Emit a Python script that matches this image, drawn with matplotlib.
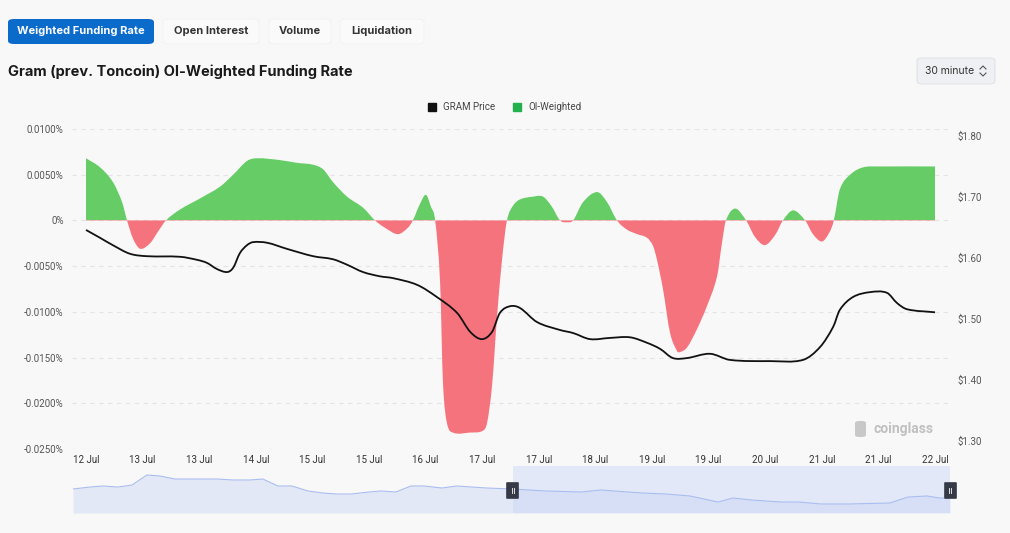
import matplotlib.pyplot as plt
from matplotlib.patches import FancyBboxPatch, PathPatch, Rectangle
from matplotlib.lines import Line2D
from matplotlib.path import Path
plt.switch_backend('Agg')
plt.rcParams["font.family"] = ["Roboto", "DejaVu Sans"]

# hours since 12 Jul 08:00, 30-minute OI-weighted funding rate (%)
fund_hours = [0, 4.0, 7.6, 10.2, 11.6, 13.3, 15.3, 18.1, 20.4, 22.6, 26.6, 32.2, 37.9, 41.6, 45.5,
              48.3, 54.8, 59.6, 64.1, 67.0, 69.8, 73.8, 78.3, 81.7, 84.5, 88.2, 91.0, 92.4, 94.4,
              96.1, 97.5, 98.7, 100.1, 100.9, 102.0, 103.7, 108.6, 112.2, 113.4, 114.8, 116.2,
              117.6, 119.0, 120.7, 122.7, 126.4, 129.2, 131.7, 134.0, 136.0, 137.7, 140.5, 144.5,
              147.3, 150.1, 152.9, 155.8, 158.6, 160.3, 161.4, 163.1, 165.1, 167.1, 167.9, 169.9,
              172.7, 175.5, 178.4, 179.8, 180.9, 183.5, 186.6, 189.1, 191.9, 194.8, 197.0, 199.9,
              203.3, 205.5, 208.1, 210.3, 211.4, 213.1, 216.0, 219.6, 224.5, 240]
fund_rate = [0.0068, 0.0058, 0.0042, 0.0020, 0, -0.0020, -0.0031, -0.0025, -0.0012, 0, 0.0012,
             0.0024, 0.0037, 0.0050, 0.0065, 0.0068, 0.0066, 0.0063, 0.0061, 0.0056, 0.0042,
             0.0026, 0.0014, 0, -0.0008, -0.0015, -0.0008, 0, 0.0018, 0.0028, 0.0015, 0,
             -0.0068, -0.0177, -0.0221, -0.0232, -0.0232, -0.0230, -0.0221, -0.0180, -0.0105,
             -0.0043, 0, 0.0016, 0.0023, 0.0026, 0.0026, 0.0015, 0, -0.0002, 0, 0.0020, 0.0031,
             0.0020, 0, -0.0010, -0.0015, -0.0019, -0.0028, -0.0043, -0.0075, -0.0123, -0.0143,
             -0.0144, -0.0139, -0.0119, -0.0094, -0.0061, -0.0024, 0, 0.0013, 0, -0.0018,
             -0.0027, -0.0016, 0, 0.0011, 0, -0.0015, -0.0023, -0.0012, 0, 0.0034, 0.0050,
             0.0058, 0.0059, 0.0059]

price_hours = [0, 4.0, 7.6, 12.4, 17.2, 26.6, 31.4, 34.2, 37.0, 39.9, 41.6, 43.5, 45.5, 47.2,
               51.2, 56.8, 64.2, 69.8, 73.8, 78.3, 83.1, 86.8, 93.6, 99.2, 104.9, 108.6, 111.9,
               114.8, 117.0, 119.9, 122.7, 127.5, 134.0, 137.7, 142.5, 148.1, 153.8, 158.6,
               162.3, 165.9, 169.9, 176.4, 182.0, 193.4, 202.7, 207.5, 211.2, 213.1, 216.8,
               221.6, 226.4, 229.3, 232.1, 240]
gram_price = [1.646, 1.633, 1.621, 1.607, 1.603, 1.602, 1.597, 1.592, 1.582, 1.577, 1.584,
              1.608, 1.621, 1.626, 1.625, 1.615, 1.603, 1.598, 1.589, 1.577, 1.570, 1.567,
              1.556, 1.536, 1.510, 1.479, 1.467, 1.479, 1.510, 1.521, 1.518, 1.495, 1.482,
              1.477, 1.467, 1.469, 1.470, 1.461, 1.451, 1.436, 1.436, 1.443, 1.433, 1.431,
              1.433, 1.454, 1.487, 1.515, 1.536, 1.544, 1.543, 1.526, 1.516, 1.511]

# overview series shown in the zoom slider
slider_hours = [-241.6, -232.3, -225.2, -216.9, -209.2, -201.0, -193.9, -185.6, -177.4, -162.6,
                -153.8, -144.4, -137.3, -129.1, -121.4, -112.6, -104.3, -96.7, -89.0, -79.1,
                -72.5, -64.3, -56.0, -48.9, -39.0, -30.8, -22.5, -14.3, 0, 17.6, 37.3, 48.3,
                70.8, 84.0, 97.2, 112.6, 120.8, 130.7, 147.2, 157.1, 169.2, 184.0, 207.0, 216.9,
                227.4, 234.0, 240]
slider_price = [1.646, 1.674, 1.689, 1.674, 1.703, 1.845, 1.831, 1.788, 1.788, 1.788, 1.774,
                1.774, 1.788, 1.689, 1.689, 1.618, 1.589, 1.575, 1.575, 1.603, 1.618, 1.603,
                1.689, 1.689, 1.660, 1.689, 1.674, 1.660, 1.646, 1.618, 1.603, 1.632, 1.589,
                1.575, 1.547, 1.461, 1.518, 1.490, 1.461, 1.461, 1.433, 1.433, 1.447, 1.532,
                1.547, 1.518, 1.518]

tick_hours = [0, 16, 32, 48, 64, 80, 96, 112, 128, 144, 160, 176, 192, 208, 224, 240]
tick_labels = ["12 Jul", "13 Jul", "13 Jul", "14 Jul", "15 Jul", "15 Jul", "16 Jul", "17 Jul",
               "17 Jul", "18 Jul", "19 Jul", "19 Jul", "20 Jul", "21 Jul", "21 Jul", "22 Jul"]
rate_ticks = [0.01, 0.005, 0, -0.005, -0.01, -0.015, -0.02, -0.025]
price_ticks = [1.3, 1.4, 1.5, 1.6, 1.7, 1.8]

bg = "#f8f8f8"
green = "#66cc66"
red = "#f5737d"
W, H = 1010, 533


def smooth_path(xs, ys, s=0.5, close_to=None):
    # bezier path through the points (like echarts smooth lines)
    n = len(xs)
    verts = [(xs[0], ys[0])]
    codes = [Path.MOVETO]
    for i in range(n - 1):
        x0, y0 = xs[i], ys[i]
        x1, y1 = xs[i + 1], ys[i + 1]
        xp, yp = (xs[i - 1], ys[i - 1]) if i > 0 else (x0, y0)
        xn, yn = (xs[i + 2], ys[i + 2]) if i + 2 < n else (x1, y1)
        d1 = x1 - x0
        slope_a = (y1 - yp) / (x1 - xp) if x1 != xp else 0
        slope_b = (yn - y0) / (xn - x0) if xn != x0 else 0
        c1 = (x0 + d1 * s / 1.5, y0 + slope_a * d1 * s / 1.5)
        c2 = (x1 - d1 * s / 1.5, y1 - slope_b * d1 * s / 1.5)
        verts += [c1, c2, (x1, y1)]
        codes += [Path.CURVE4] * 3
    if close_to is not None:
        verts += [(xs[-1], close_to), (xs[0], close_to), (xs[0], ys[0])]
        codes += [Path.LINETO, Path.LINETO, Path.CLOSEPOLY]
    return Path(verts, codes)


fig = plt.figure(figsize=(10.1, 5.33), dpi=100, facecolor=bg)

def fx(px):
    return px / W

def fy(py):
    return 1 - py / H

# main chart
ax = fig.add_axes([fx(72), fy(449), fx(948) - fx(72), fy(129) - fy(449)], facecolor=bg)
ax.set_xlim(-14 / 3.5375, 240 + 13 / 3.5375)
ax.set_ylim(-0.025, 0.01)
area = smooth_path(fund_hours, fund_rate, close_to=0)
for color, y0, y1 in [(green, 0, 1), (red, -1, 0)]:
    p = PathPatch(area, fc=color, ec="none", lw=0, zorder=2)
    ax.add_patch(p)
    clip = Rectangle((-50, y0), 400, y1 - y0, transform=ax.transData)
    p.set_clip_path(clip)
ax.set_yticks(rate_ticks)
ax.set_yticklabels(["0%" if v == 0 else "%.4f%%" % v for v in rate_ticks])
ax.set_xticks(tick_hours)
ax.set_xticklabels(tick_labels)
ax.grid(axis="y", color="#e4e4e4", ls=(0, (4, 4)), lw=0.8)
ax.set_axisbelow(True)
for s in ax.spines.values():
    s.set_visible(False)
ax.tick_params(length=0, labelsize=7, colors="#555555")
ax.tick_params(axis="y", pad=6)
ax.tick_params(axis="x", pad=4, colors="#333333")

ax2 = ax.twinx()
ax2.add_patch(PathPatch(smooth_path(price_hours, gram_price), fc="none", ec="#111111",
                        lw=1.3, zorder=3))
ax2.set_ylim(1.2869, 1.8115)
ax2.set_yticks(price_ticks)
ax2.set_yticklabels(["$%.2f" % v for v in price_ticks])
for s in ax2.spines.values():
    s.set_visible(False)
ax2.tick_params(length=0, labelsize=7, colors="#555555", pad=7)

# watermark
fig.text(fx(873), fy(429), "coinglass", fontsize=10, fontweight="bold", color="#c0c0c0",
         va="center", ha="left")
fig.add_artist(FancyBboxPatch((fx(855), fy(437)), fx(11), fy(421) - fy(437),
                              boxstyle="round,pad=0,rounding_size=0.004",
                              transform=fig.transFigure, fc="#c8c8c8", ec="none"))

# legend
leg = [Line2D([], [], ls="none", marker="s", ms=6, color="#111111", label="GRAM Price"),
       Line2D([], [], ls="none", marker="s", ms=6, color="#22b14c", label="OI-Weighted")]
fig.legend(handles=leg, loc="center", bbox_to_anchor=(fx(502), fy(107)), ncol=2, frameon=False,
           fontsize=7, handletextpad=0.2, columnspacing=1.2, labelcolor="#444444")

# slider
sl = fig.add_axes([fx(73), fy(513), fx(950) - fx(73), fy(466) - fy(513)], facecolor=bg)
sl.plot(slider_hours, slider_price, color="#a9bdf0", lw=0.8)
sl.fill_between(slider_hours, slider_price, 1.305, color="#e3e8f6", lw=0)
sl.axvspan(0, 240, color="#c9d6f7", alpha=0.45, lw=0)
sl.set_xlim(slider_hours[0], 240)
sl.set_ylim(1.305, 1.973)
sl.axis("off")
for h in [0, 240]:
    px = sl.transData.transform((h, 0))[0]
    fig.add_artist(Rectangle((fx(px - 5.5), fy(497.5)), fx(11), fy(482.5) - fy(497.5),
                             transform=fig.transFigure, fc="#353a46", ec="#353a46", lw=1.2,
                             joinstyle="round", zorder=5))
    for off in (-1.2, 1.2):
        fig.add_artist(Line2D([fx(px + off)] * 2, [fy(487.5), fy(492.5)],
                              transform=fig.transFigure, color="white", lw=0.6, zorder=6))

# header: tabs, title, interval selector
fig.add_artist(FancyBboxPatch((fx(8), fy(44)), fx(146), fy(19) - fy(44),
                              boxstyle="round,pad=0,rounding_size=0.006",
                              transform=fig.transFigure, fc="#0b6bcb", ec="none"))
fig.text(fx(81), fy(31.5), "Weighted Funding Rate", color="white", fontsize=8,
         fontweight="bold", ha="center", va="center", family=["Inter", "DejaVu Sans"])
for cx, wd, name in [(211, 96, "Open Interest"), (300, 62, "Volume"), (382, 84, "Liquidation")]:
    fig.add_artist(FancyBboxPatch((fx(cx - wd / 2), fy(44)), fx(wd), fy(19) - fy(44),
                                  boxstyle="round,pad=0,rounding_size=0.006",
                                  transform=fig.transFigure, fc="#fafafa", ec="#f1f1f1", lw=0.6))
    fig.text(fx(cx), fy(31.5), name, color="#333333", fontsize=8, fontweight="bold",
             ha="center", va="center", family=["Inter", "DejaVu Sans"])

fig.text(fx(8), fy(72), "Gram (prev. Toncoin) OI-Weighted Funding Rate", fontsize=10.5,
         fontweight="bold", color="#1a1a1a", ha="left", va="center", family=["Inter", "DejaVu Sans"])

fig.add_artist(FancyBboxPatch((fx(917), fy(84)), fx(78), fy(58) - fy(84),
                              boxstyle="round,pad=0,rounding_size=0.005",
                              transform=fig.transFigure, fc="#eef0f3", ec="#dcdfe4", lw=0.6))
fig.text(fx(925), fy(71), "30 minute", fontsize=7.5, color="#333333", ha="left", va="center",
         family=["Inter", "DejaVu Sans"])
fig.add_artist(Line2D([fx(980), fx(983), fx(986)], [fy(69), fy(66), fy(69)],
                      transform=fig.transFigure, color="#555555", lw=0.8))
fig.add_artist(Line2D([fx(980), fx(983), fx(986)], [fy(73), fy(76), fy(73)],
                      transform=fig.transFigure, color="#555555", lw=0.8))

fig.savefig("out.png", dpi=100, facecolor=bg)
